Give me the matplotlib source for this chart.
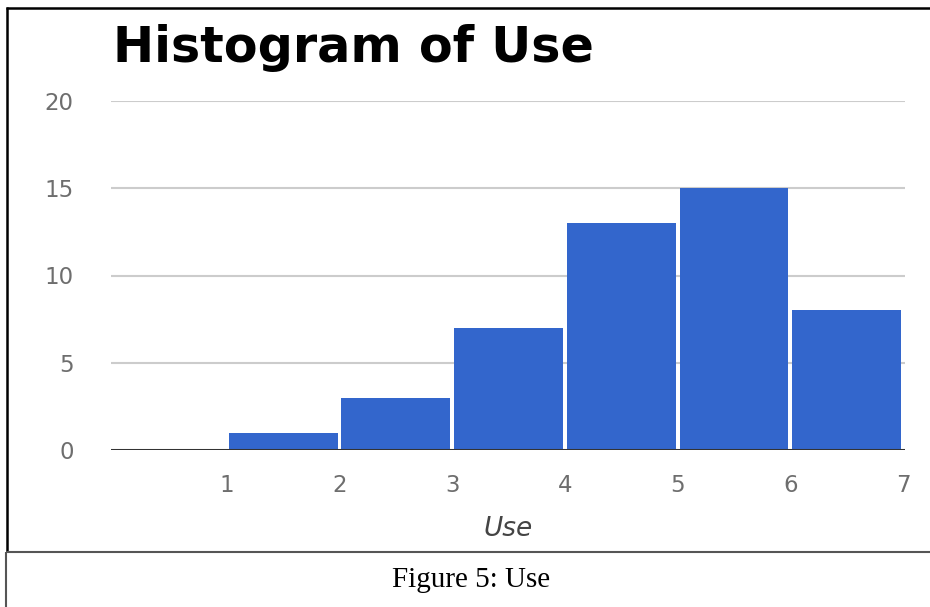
import numpy as np
import matplotlib.pyplot as plt
from matplotlib.lines import Line2D

# histogram of "Use" responses, one bin per unit
bin_edges = [0, 1, 2, 3, 4, 5, 6, 7]
counts = [0, 1, 3, 7, 13, 15, 8]
y_ticks = [0, 5, 10, 15, 20]
x_ticks = [1, 2, 3, 4, 5, 6, 7]

W, H = 930, 607
fig = plt.figure(figsize=(W / 100, H / 100), dpi=100)

ax = fig.add_axes([111 / W, (H - 450) / H, 794 / W, 349 / H])
lefts = np.array(bin_edges[:-1], dtype=float)
ax.bar(lefts + 0.018, counts, width=0.965, align='edge', color='#3366cc', zorder=2)

ax.set_xlim(-0.027, 7.018)
ax.set_ylim(0, 20)
for y in y_ticks[1:]:
    ax.axhline(y, color='#cccccc', lw=1.5, zorder=1)
ax.axhline(0, color='#333333', lw=2.2, zorder=3)

ax.set_yticks(y_ticks)
ax.set_xticks(x_ticks)
ax.tick_params(length=0, labelsize=16.5, labelcolor='#6e6e6e')
ax.tick_params(axis='y', pad=27)
ax.tick_params(axis='x', pad=17)
for s in ax.spines.values():
    s.set_visible(False)
ax.set_xlabel('Use', fontsize=19, style='italic', color='#444444', labelpad=14)

fig.text(113 / W, (H - 62) / H, 'Histogram of Use', fontsize=35.5,
         fontweight='bold', color='black', ha='left', va='baseline')

# frame around the chart and the caption box below it
def fig_line(xs, ys, color, lw):
    fig.add_artist(Line2D([x / W for x in xs], [(H - y) / H for y in ys],
                          color=color, lw=lw, solid_capstyle='butt'))

fig_line([6, W], [7.5, 7.5], 'black', 1.8)
fig_line([6.5, 6.5], [7, 552], 'black', 1.8)
fig_line([6, W], [552, 552], '#555555', 1.5)
fig_line([6, 6], [552, H], '#555555', 1.5)

fig.text(471 / W, (H - 587) / H, 'Figure 5: Use', fontsize=21,
         family='Liberation Serif', color='black', ha='center', va='baseline')

fig.savefig('out.png', dpi=100)
